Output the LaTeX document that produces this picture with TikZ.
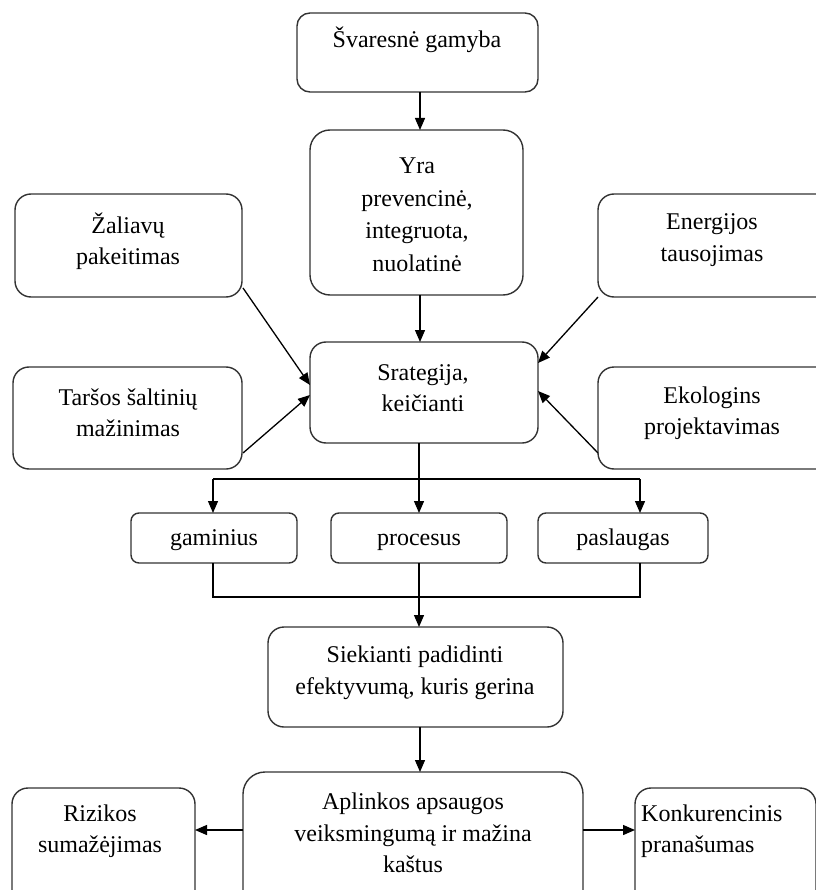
\documentclass[tikz,border=0pt]{standalone}
\usepackage{fontspec}
\setmainfont{Liberation Serif}
\usetikzlibrary{arrows.meta,calc}
\definecolor{edge}{RGB}{50,50,50}
\begin{document}
\begin{tikzpicture}[x=1pt,y=-1pt,
  box/.style={draw=edge,line width=1.4pt,rounded corners=16pt,inner sep=0pt,outer sep=0pt},
  sbox/.style={box,rounded corners=8pt},
  txt/.style={inner sep=0pt,align=center,font=\fontsize{24}{31.5}\selectfont},
  one/.style={txt,text height=16pt,text depth=5pt},
  arr/.style={line width=1.3pt,-{Triangle[length=12pt,width=10pt]}},
  ln/.style={line width=1.3pt}]
\useasboundingbox (0,0) rectangle (815,890);
% boxes
\node[box,rounded corners=13pt,minimum width=241pt,minimum height=79pt] (top) at (417.5,52.5) {};
\node[box,rounded corners=20pt,minimum width=213pt,minimum height=165pt] (yra) at (416.5,212.5) {};
\node[box,minimum width=227pt,minimum height=103pt] (zal) at (128.5,245.5) {};
\node[box,minimum width=247pt,minimum height=103pt] (ene) at (721.5,245.5) {};
\node[box,minimum width=229pt,minimum height=102pt] (tar) at (127.5,418) {};
\node[box,minimum width=247pt,minimum height=102pt] (eko) at (721.5,418) {};
\node[box,minimum width=228pt,minimum height=101pt] (sra) at (424,392.5) {};
\node[sbox,minimum width=166pt,minimum height=50pt] (gam) at (214,538) {};
\node[sbox,minimum width=176pt,minimum height=50pt] (pro) at (419,538) {};
\node[sbox,minimum width=170pt,minimum height=50pt] (pas) at (623,538) {};
\node[box,minimum width=295pt,minimum height=100pt] (sie) at (415.5,677) {};
\node[box,rounded corners=22pt,minimum width=340pt,minimum height=140pt] (apl) at (413,842) {};
\node[box,minimum width=183pt,minimum height=120pt] (riz) at (103.5,848) {};
\node[box,minimum width=181pt,minimum height=120pt] (kon) at (725.5,848) {};
% texts
\node[txt] (topt) at (417,40) {Švaresnė gamyba};
\node[txt,font=\fontsize{24}{32.5}\selectfont] (yrat) at (417,215) {Yra\\prevencinė,\\integruota,\\nuolatinė};
\node[txt] (zalt) at (128,241) {Žaliavų\\pakeitimas};
\node[txt] (enet) at (712,240) {Energijos\\tausojimas};
\node[txt] (tart) at (128,413) {Taršos šaltinių\\mažinimas};
\node[txt] (ekot) at (712,413) {Ekologins\\projektavimas};
\node[txt] (srat) at (423,388) {Srategija,\\keičianti};
\node[one] (gamt) at (214,540) {gaminius};
\node[one] (prot) at (419,540) {procesus};
\node[one] (past) at (623,540) {paslaugas};
\node[txt] (siet) at (415,673) {Siekianti padidinti\\efektyvumą, kuris gerina};
\node[txt] (aplt) at (413,833) {Aplinkos apsaugos\\veiksmingumą ir mažina\\kaštus};
\node[txt] (rizt) at (100,831) {Rizikos\\sumažėjimas};
\node[txt,align=left,anchor=west] (kont) at (641,831) {Konkurencinis\\pranašumas};
% helper coordinates
\coordinate (brL) at (213,479);
\coordinate (brM) at (419,479);
\coordinate (brR) at (640,479);
\coordinate (mgL) at (213,597);
\coordinate (mgM) at (419,597);
\coordinate (mgR) at (640,597);
% connectors
\draw[arr] (top.south -| 420,0) -- (yra.north -| 420,0);
\draw[arr] (yra.south -| 420,0) -- (sra.north -| 420,0);
\draw[arr] ($(zal.south east)+(1,-9)$) -- ($(sra.west)+(0,-7.5)$);
\draw[arr] ($(tar.south east)+(1,-16)$) -- ($(sra.west)+(0,2.5)$);
\draw[arr] ($(ene.south west)+(0,0)$) -- ($(sra.east)+(0,-29.5)$);
\draw[arr] ($(eko.south west)+(0,-16)$) -- ($(sra.east)+(0,-1.5)$);
\draw[arr] (sra.south -| brM) -- (pro.north);
\draw[ln] (brL) -- (brR);
\draw[arr] (brL) -- (gam.north -| brL);
\draw[arr] (brR) -- (pas.north -| brR);
\draw[ln] (gam.south -| mgL) -- (mgL) -- (mgR) -- (pas.south -| mgR);
\draw[arr] (pro.south) -- (sie.north -| mgM);
\draw[arr] (sie.south -| 420,0) -- (apl.north -| 420,0);
\draw[arr] (apl.west |- 0,830) -- (riz.east |- 0,830);
\draw[arr] (apl.east |- 0,830) -- (kon.west |- 0,830);
\end{tikzpicture}
\end{document}
